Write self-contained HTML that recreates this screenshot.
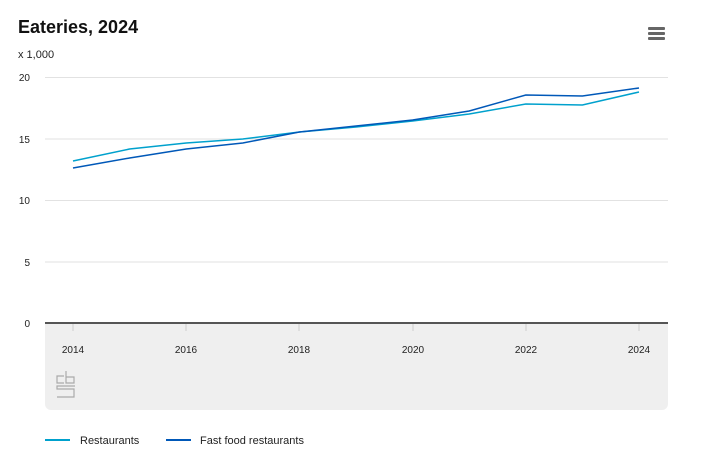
<!DOCTYPE html>
<html><head><style>
body{margin:0;background:#fff;font-family:"Liberation Sans",sans-serif;}
</style></head><body>
<svg width="709" height="460" xmlns="http://www.w3.org/2000/svg" font-family="Liberation Sans, sans-serif">
<text x="18" y="33" font-size="18" font-weight="bold" fill="#111">Eateries, 2024</text>
<text x="18" y="58" font-size="11" fill="#222">x 1,000</text>
<g fill="#666"><rect x="648" y="27" width="17" height="3" rx="1"/><rect x="648" y="32" width="17" height="3" rx="1"/><rect x="648" y="37" width="17" height="3" rx="1"/></g>
<path d="M45 323 H668 V404 a6 6 0 0 1 -6 6 H51 a6 6 0 0 1 -6 -6 Z" fill="#efefef"/>
<g stroke="#e2e2e2" stroke-width="1">
<line x1="45" x2="668" y1="77.5" y2="77.5"/><line x1="45" x2="668" y1="139" y2="139"/><line x1="45" x2="668" y1="200.5" y2="200.5"/><line x1="45" x2="668" y1="262" y2="262"/>
</g>
<line x1="45" x2="668" y1="323" y2="323" stroke="#555" stroke-width="2"/>
<g stroke="#ccc"><line x1="73" x2="73" y1="324" y2="331"/><line x1="186" x2="186" y1="324" y2="331"/><line x1="299" x2="299" y1="324" y2="331"/><line x1="413" x2="413" y1="324" y2="331"/><line x1="526" x2="526" y1="324" y2="331"/><line x1="639" x2="639" y1="324" y2="331"/></g>
<g font-size="10" fill="#222" text-anchor="end"><text x="30" y="81">20</text><text x="30" y="143">15</text><text x="30" y="204">10</text><text x="30" y="266">5</text><text x="30" y="327">0</text></g>
<g font-size="10" fill="#222" text-anchor="middle"><text x="73" y="353">2014</text><text x="186" y="353">2016</text><text x="299" y="353">2018</text><text x="413" y="353">2020</text><text x="526" y="353">2022</text><text x="639" y="353">2024</text></g>
<g fill="none" stroke="#aaa" stroke-width="1.2">
<path d="M64 376H57v7h7"/><path d="M66 371v12h8v-6h-8"/>
<path d="M75 386H57v3h17v8H57"/>
</g>
<polyline fill="none" stroke="#00a1cd" stroke-width="1.5" points="73,161 129.6,149 186.2,143 242.8,139 299.4,132 356,127 412.6,121 469.2,114 525.8,104 582.4,105 639,92"/>
<polyline fill="none" stroke="#0058b8" stroke-width="1.5" points="73,168 129.6,158 186.2,149 242.8,143 299.4,132 356,126 412.6,120 469.2,111 525.8,95 582.4,96 639,88"/>
<line x1="45" x2="70" y1="440" y2="440" stroke="#00a1cd" stroke-width="2"/>
<text x="80" y="444" font-size="11" fill="#222">Restaurants</text>
<line x1="166" x2="191" y1="440" y2="440" stroke="#0058b8" stroke-width="2"/>
<text x="200" y="444" font-size="11" fill="#222">Fast food restaurants</text>
</svg>
</body></html>
